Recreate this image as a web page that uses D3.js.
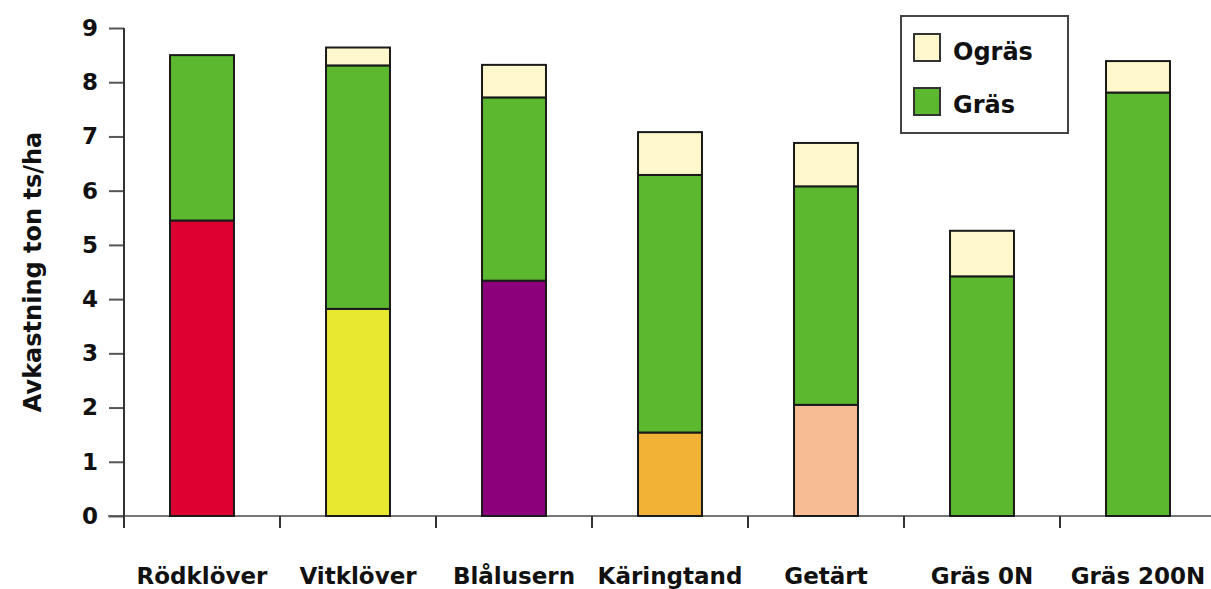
<!DOCTYPE html>
<html>
<head>
<meta charset="utf-8">
<script src="https://cdn.jsdelivr.net/npm/d3@7"></script>
<style>
  html, body { margin: 0; padding: 0; background: #fff; }
  svg { display: block; }
  text { font-family: "Comic Sans MS", "DejaVu Sans", sans-serif; font-weight: bold; fill: #111; }
</style>
</head>
<body>
<svg id="chart" width="1211" height="589"></svg>
<script>
// Yield (ton dry matter per ha) per crop, split into legume, grass and weeds
const categories = ["Rödklöver", "Vitklöver", "Blålusern", "Käringtand", "Getärt", "Gräs 0N", "Gräs 200N"];
const legume = [5.45, 3.82, 4.34, 1.54, 2.05, 0, 0];
const grass  = [3.05, 4.49, 3.38, 4.75, 4.03, 4.42, 7.81];
const weeds  = [0, 0.33, 0.60, 0.79, 0.80, 0.84, 0.58];
const legumeColors = ["#df0032", "#e8e830", "#8c007c", "#f2b236", "#f7bc94", "#5cb82f", "#5cb82f"];
const yTicks = [0, 1, 2, 3, 4, 5, 6, 7, 8, 9];
const legendLabels = ["Ogräs", "Gräs"];
const grassColor = "#5cb82f";
const weedColor = "#fef8cc";

const svg = d3.select("#chart");
const x0 = 124, yBottom = 516, yTop = 28;
const step = 156;

const x = d3.scaleBand()
  .domain(categories)
  .range([x0, x0 + step * categories.length])
  .paddingInner(0.59)
  .paddingOuter(0.295);

const y = d3.scaleLinear().domain([0, 9]).range([yBottom, yTop]);

// horizontal axis line and tick marks between categories
svg.append("line")
  .attr("x1", 108).attr("x2", 1211)
  .attr("y1", yBottom).attr("y2", yBottom)
  .attr("stroke", "#777").attr("stroke-width", 2);

const boundaries = d3.range(categories.length + 1).map(i => x0 + step * i);
svg.append("g").selectAll("line")
  .data(boundaries)
  .join("line")
  .attr("x1", d => d).attr("x2", d => d)
  .attr("y1", yBottom).attr("y2", yBottom + 12)
  .attr("stroke", "#333").attr("stroke-width", 2);

// category labels
svg.append("g").selectAll("text")
  .data(categories)
  .join("text")
  .attr("x", d => x(d) + x.bandwidth() / 2)
  .attr("y", 584)
  .attr("text-anchor", "middle")
  .attr("font-size", 23)
  .text(d => d);

// vertical axis
const yAxis = svg.append("g")
  .attr("transform", `translate(${x0},0)`)
  .call(d3.axisLeft(y).tickValues(yTicks).tickSize(15).tickPadding(11).tickFormat(d3.format("d")));
yAxis.select(".domain").remove();
yAxis.selectAll(".tick line").attr("stroke", "#555").attr("stroke-width", 2);
yAxis.selectAll(".tick text")
  .attr("font-size", 23)
  .attr("font-family", "\"Comic Sans MS\", \"DejaVu Sans\", sans-serif")
  .attr("font-weight", "bold")
  .attr("fill", "#111");
svg.append("line")
  .attr("x1", x0).attr("x2", x0)
  .attr("y1", yTop).attr("y2", yBottom + 12)
  .attr("stroke", "#333").attr("stroke-width", 2);

// axis title
svg.append("text")
  .attr("transform", `translate(41,${(yTop + yBottom) / 2}) rotate(-90)`)
  .attr("text-anchor", "middle")
  .attr("font-size", 24)
  .text("Avkastning ton ts/ha");

// stacked bars
const rows = categories.map((c, i) => ({ cat: c, legume: legume[i], grass: grass[i], weeds: weeds[i], lc: legumeColors[i] }));
const stack = d3.stack().keys(["legume", "grass", "weeds"])(rows);

stack.forEach(layer => {
  svg.append("g").selectAll("rect")
    .data(layer.filter(d => d[1] - d[0] > 0))
    .join("rect")
    .attr("x", d => x(d.data.cat))
    .attr("width", x.bandwidth())
    .attr("y", d => y(d[1]))
    .attr("height", d => y(d[0]) - y(d[1]))
    .attr("fill", d => layer.key === "legume" ? d.data.lc : layer.key === "grass" ? grassColor : weedColor)
    .attr("stroke", "#1a1a1a")
    .attr("stroke-width", 2);
});

// legend
const legend = svg.append("g");
legend.append("rect")
  .attr("x", 901).attr("y", 16)
  .attr("width", 167).attr("height", 117)
  .attr("fill", "#fff").attr("stroke", "#444").attr("stroke-width", 2);
const legendColors = [weedColor, grassColor];
legendLabels.forEach((lab, i) => {
  legend.append("rect")
    .attr("x", 914).attr("y", 34 + i * 54)
    .attr("width", 26).attr("height", 27)
    .attr("fill", legendColors[i]).attr("stroke", "#333").attr("stroke-width", 2);
  legend.append("text")
    .attr("x", 953).attr("y", 60 + i * 53)
    .attr("font-size", 24)
    .text(lab);
});
</script>
</body>
</html>
